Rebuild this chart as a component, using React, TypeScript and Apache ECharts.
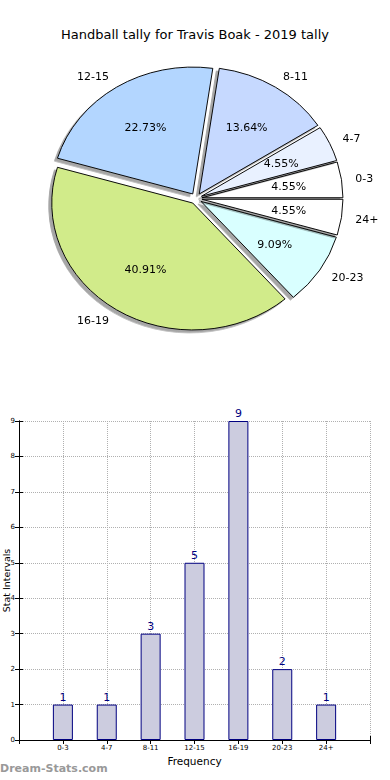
import React, { useEffect, useRef } from 'react';
import * as echarts from 'echarts';

const chartTitle = 'Handball tally for Travis Boak - 2019 tally';
const categories = ['0-3', '4-7', '8-11', '12-15', '16-19', '20-23', '24+'];
const counts = [1, 1, 3, 5, 9, 2, 1];
const sliceColors = ['#ffffff', '#e9f1ff', '#c6d9ff', '#b3d6ff', '#d1eb8a', '#d9ffff', '#ffffff'];
const xAxisName = 'Frequency';
const yAxisName = 'Stat Intervals';
const watermark = 'Dream-Stats.com';

const FONT = '"DejaVu Sans", sans-serif';

export default function App() {
  const mainRef = useRef<HTMLDivElement>(null);
  const pieRef = useRef<HTMLDivElement>(null);

  useEffect(() => {
    const main = echarts.init(mainRef.current!, undefined, { renderer: 'svg' });
    const pie = echarts.init(pieRef.current!, undefined, { renderer: 'svg' });
    const total = counts.reduce((a, b) => a + b, 0);

    main.setOption({
      animation: false,
      title: {
        text: chartTitle,
        left: 'center',
        top: 23,
        textStyle: { fontFamily: FONT, fontSize: 13, fontWeight: 'normal', color: '#000' },
      },
      grid: {
        left: 19,
        right: 20,
        top: 421,
        bottom: 40,
        show: false,
        containLabel: false,
        outerBoundsMode: 'none',
      },
      xAxis: [
        {
          type: 'value',
          min: 0,
          max: 8,
          interval: 1,
          position: 'bottom',
          axisLine: { show: true, lineStyle: { color: '#000', width: 1 } },
          axisTick: { show: true, inside: true, length: 4, lineStyle: { color: '#000' } },
          axisLabel: {
            formatter: (v: number) => categories[v - 1] ?? '',
            fontSize: 7,
            color: '#000',
            fontFamily: FONT,
            margin: 4,
          },
          splitLine: { show: true, lineStyle: { type: 'dotted', color: '#b0b0b0' } },
          name: xAxisName,
          nameLocation: 'middle',
          nameGap: 15,
          nameMoveOverlap: false,
          nameTextStyle: { fontFamily: FONT, fontSize: 10.5, color: '#000' },
        },
        {
          type: 'value',
          min: 0,
          max: 8,
          interval: 1,
          position: 'top',
          axisLine: { show: true, lineStyle: { color: '#000', width: 1 } },
          axisTick: { show: true, inside: true, length: 4, lineStyle: { color: '#000' } },
          axisLabel: { show: false },
          splitLine: { show: false },
        },
      ],
      yAxis: [
        {
          type: 'value',
          min: 0,
          max: 9,
          interval: 1,
          position: 'left',
          axisLine: { show: true, lineStyle: { color: '#000', width: 1 } },
          axisTick: { show: true, inside: true, length: 4, lineStyle: { color: '#000' } },
          axisLabel: { fontSize: 7, color: '#000', fontFamily: FONT, margin: 4 },
          splitLine: { show: true, lineStyle: { type: 'dotted', color: '#b0b0b0' } },
          name: yAxisName,
          nameLocation: 'middle',
          nameGap: 7.5,
          nameRotate: 90,
          nameMoveOverlap: false,
          nameTextStyle: { fontFamily: FONT, fontSize: 9.5, color: '#000' },
        },
        {
          type: 'value',
          min: 0,
          max: 9,
          interval: 1,
          position: 'right',
          axisLine: { show: true, lineStyle: { color: '#000', width: 1 } },
          axisTick: { show: true, inside: true, length: 4, lineStyle: { color: '#000' } },
          axisLabel: { show: false },
          splitLine: { show: false },
        },
      ],
      series: [
        {
          type: 'bar',
          xAxisIndex: 0,
          yAxisIndex: 0,
          data: counts.map((c, i) => [i + 1, c]),
          barWidth: 20,
          itemStyle: { color: '#ccccdf', borderColor: '#000080', borderWidth: 1 },
          label: {
            show: true,
            position: 'top',
            distance: 2,
            color: '#000080',
            fontSize: 11,
            fontFamily: FONT,
            formatter: (p: any) => String(p.value[1]),
          },
          emphasis: { disabled: true },
        },
      ],
      graphic: [
        {
          type: 'text',
          left: 0,
          top: 763,
          style: { text: watermark, fill: '#999', font: `bold 11px ${FONT}` },
        },
      ],
    });

    const pieData = categories.map((c, i) => ({
      name: c,
      value: counts[i],
      selected: true,
      itemStyle: { color: sliceColors[i] },
    }));

    pie.setOption({
      animation: false,
      series: [
        {
          type: 'pie',
          center: [196, 198.5],
          radius: 141,
          startAngle: 0,
          clockwise: false,
          avoidLabelOverlap: false,
          selectedMode: 'multiple',
          selectedOffset: 6,
          data: pieData,
          itemStyle: {
            borderColor: '#000',
            borderWidth: 1,
            shadowColor: 'rgba(0,0,0,0.35)',
            shadowOffsetX: -3,
            shadowOffsetY: 3,
            shadowBlur: 0,
          },
          select: { itemStyle: { borderColor: '#000', borderWidth: 1 } },
          label: {
            show: true,
            position: 'outside',
            formatter: '{b}',
            fontSize: 11,
            color: '#000',
            fontFamily: FONT,
            distanceToLabelLine: 0,
          },
          labelLine: { show: false, length: 14, length2: 0 },
          emphasis: { disabled: true },
        },
        {
          type: 'pie',
          center: [196, 198.5],
          radius: 169.2,
          startAngle: 0,
          clockwise: false,
          avoidLabelOverlap: false,
          selectedMode: 'multiple',
          selectedOffset: 6,
          silent: true,
          data: categories.map((c, i) => ({ name: c, value: counts[i], selected: true })),
          itemStyle: { color: 'rgba(0,0,0,0)', borderWidth: 0 },
          select: { itemStyle: { color: 'rgba(0,0,0,0)', borderWidth: 0 } },
          label: {
            show: true,
            position: 'inside',
            formatter: (p: any) => ((p.value / total) * 100).toFixed(2) + '%',
            fontSize: 11,
            color: '#000',
            fontFamily: FONT,
          },
          labelLine: { show: false },
          emphasis: { disabled: true },
        },
      ],
    });

    return () => {
      main.dispose();
      pie.dispose();
    };
  }, []);

  return (
    <div style={{ position: 'absolute', left: 0, top: 0, width: 390, height: 780, background: '#fff' }}>
      <div ref={mainRef} style={{ position: 'absolute', left: 0, top: 0, width: 390, height: 780 }} />
      <div
        ref={pieRef}
        style={{
          position: 'absolute',
          left: 0,
          top: 0,
          width: 390,
          height: 400,
          transform: 'scaleY(0.9)',
          transformOrigin: '196px 198.5px',
        }}
      />
    </div>
  );
}
